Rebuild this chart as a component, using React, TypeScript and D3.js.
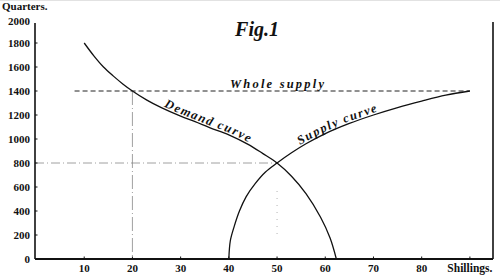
import React from "react";
import * as d3 from "d3";

// Price in shillings (x) and quantity in quarters (y)
const demandPrice = [10, 12, 14, 16, 18, 20, 23, 26, 30, 33, 36, 40, 44, 47, 50, 53, 56, 59, 61, 62.3];
const demandQty = [1800, 1693, 1600, 1526, 1459, 1400, 1324, 1261, 1190, 1144, 1095, 1035, 955, 880, 800, 690, 545, 350, 175, 0];

const supplyPrice = [40, 40.3, 41.1, 42.2, 43.6, 45.5, 47.6, 50, 53, 56, 60, 65, 70, 75, 80, 85, 90];
const supplyQty = [0, 150, 270, 400, 520, 630, 725, 800, 885, 960, 1045, 1130, 1200, 1262, 1316, 1365, 1400];

const wholeSupply = 1400;
const wholeSupplyFrom = 8;
const wholeSupplyTo = 90;
const equilibriumPrice = 50;
const equilibriumQty = 800;
const demandAtWhole = 20;

const yTicks = [0, 200, 400, 600, 800, 1000, 1200, 1400, 1600, 1800, 2000];
const xTicks = [10, 20, 30, 40, 50, 60, 70, 80];
const xUnitTick = 90;

const W = 500;
const H = 278;

export default function App() {
  const x = d3.scaleLinear().domain([0, 95]).range([36, 494]);
  const y = d3.scaleLinear().domain([0, 2000]).range([259, 19]);

  const line = d3
    .line<[number, number]>()
    .x((d) => x(d[0]))
    .y((d) => y(d[1]))
    .curve(d3.curveCatmullRom.alpha(0.5));

  const demandPts = demandPrice.map((p, i) => [p, demandQty[i]] as [number, number]);
  const supplyPts = supplyPrice.map((p, i) => [p, supplyQty[i]] as [number, number]);

  const serif = "'Liberation Serif', 'DejaVu Serif', serif";
  const x0 = x(0) - 1;

  return (
    <svg
      width={W}
      height={H}
      style={{ position: "absolute", left: 0, top: 0, display: "block", background: "#fff" }}
      fontFamily={serif}
    >
      <line x1={0} x2={W} y1={0.5} y2={0.5} stroke="#e2e2e2" strokeWidth={1} />

      {/* guide lines */}
      <line
        x1={x(wholeSupplyFrom)}
        x2={x(wholeSupplyTo)}
        y1={y(wholeSupply)}
        y2={y(wholeSupply)}
        stroke="#222"
        strokeWidth={1}
        strokeDasharray="5,3"
      />
      <line
        x1={x0}
        x2={x(equilibriumPrice)}
        y1={y(equilibriumQty)}
        y2={y(equilibriumQty)}
        stroke="#888"
        strokeWidth={0.8}
        strokeDasharray="9,3,1,3"
      />
      <line
        x1={x(demandAtWhole)}
        x2={x(demandAtWhole)}
        y1={y(wholeSupply)}
        y2={y(0)}
        stroke="#888"
        strokeWidth={0.8}
        strokeDasharray="14,3,1,3"
      />
      <line
        x1={x(equilibriumPrice)}
        x2={x(equilibriumPrice)}
        y1={y(equilibriumQty) + 28}
        y2={y(0) - 24}
        stroke="#aaa"
        strokeWidth={0.9}
        strokeDasharray="1,6"
      />

      {/* curves */}
      <path id="demandPath" d={line(demandPts) || ""} fill="none" stroke="#111" strokeWidth={1.3} />
      <path id="supplyPath" d={line(supplyPts) || ""} fill="none" stroke="#111" strokeWidth={1.3} />

      <text fontSize={12.5} fontStyle="italic" fontWeight="bold" fill="#111" dy={-2}>
        <textPath href="#demandPath" startOffset="30%" textLength={92} lengthAdjust="spacing">
          Demand curve
        </textPath>
      </text>
      <text fontSize={12.5} fontStyle="italic" fontWeight="bold" fill="#111" dy={-2}>
        <textPath href="#supplyPath" startOffset="44%" textLength={84} lengthAdjust="spacing">
          Supply curve
        </textPath>
      </text>

      <text
        x={277}
        y={y(wholeSupply) - 3}
        textAnchor="middle"
        fontSize={12.5}
        fontStyle="italic"
        fontWeight="bold"
        fill="#111"
        textLength={94}
        lengthAdjust="spacing"
      >
        Whole supply
      </text>

      {/* axes */}
      <line x1={x0} x2={x0} y1={23} y2={y(0)} stroke="#111" strokeWidth={1.6} />
      <line x1={x0} x2={x(95) - 1} y1={y(0)} y2={y(0)} stroke="#111" strokeWidth={1.8} />
      <line x1={x(95) - 1} x2={x(95) - 1} y1={22} y2={y(0)} stroke="#111" strokeWidth={1.6} />

      {yTicks.map((t) => (
        <g key={`y${t}`}>
          {t > 0 && t < 2000 && (
            <line x1={x0} x2={x0 + 2.5} y1={y(t)} y2={y(t)} stroke="#111" strokeWidth={1} />
          )}
          <text
            x={30}
            y={t === 2000 ? y(t) + 2 : y(t)}
            dy="0.35em"
            textAnchor="end"
            fontSize={11}
            fontWeight="bold"
            fill="#111"
          >
            {t}
          </text>
        </g>
      ))}

      {xTicks.map((t) => (
        <g key={`x${t}`}>
          <line x1={x(t)} x2={x(t)} y1={y(0)} y2={y(0) - 2.5} stroke="#111" strokeWidth={1} />
          <text x={x(t)} y={272} textAnchor="middle" fontSize={11} fontWeight="bold" fill="#111">
            {t}
          </text>
        </g>
      ))}
      <line x1={x(xUnitTick)} x2={x(xUnitTick)} y1={y(0)} y2={y(0) - 2.5} stroke="#111" strokeWidth={1} />
      <text x={x(xUnitTick)} y={272} textAnchor="middle" fontSize={11.5} fontWeight="bold" fill="#111">
        Shillings.
      </text>

      <text x={2} y={10} fontSize={11} fontWeight="bold" fill="#111">
        Quarters.
      </text>

      <text
        x={257}
        y={36}
        textAnchor="middle"
        fontSize={20}
        fontStyle="italic"
        fontWeight="bold"
        fill="#111"
      >
        Fig.1
      </text>
    </svg>
  );
}
